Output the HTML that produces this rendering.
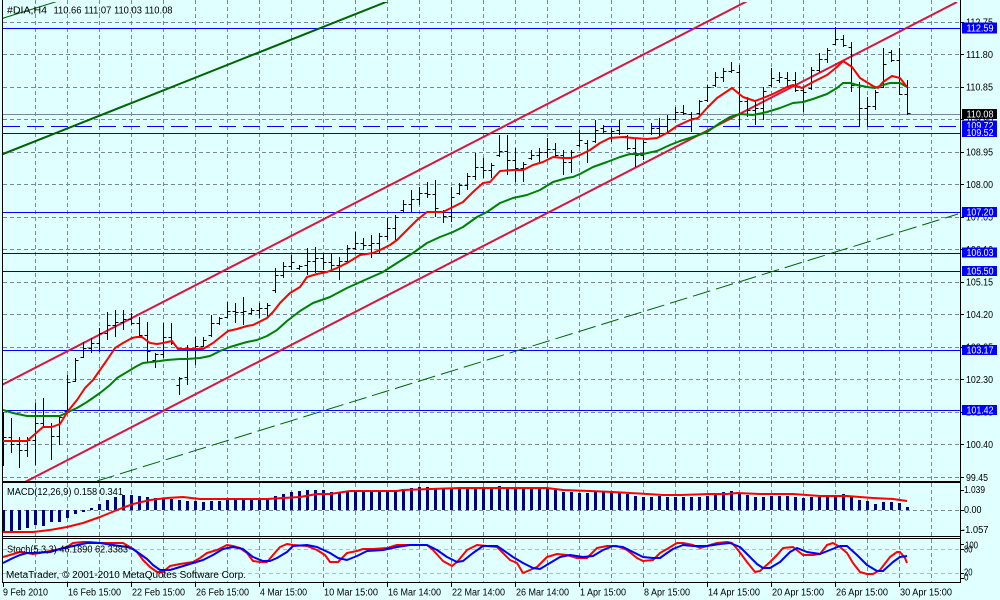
<!DOCTYPE html>
<html><head><meta charset="utf-8"><style>
html,body{margin:0;padding:0;background:#E0FFFF;}
svg{display:block;}
text{font-family:"Liberation Sans",sans-serif;font-size:10px;fill:#000;}
</style></head><body>
<svg width="1000" height="600" viewBox="0 0 1000 600" xmlns="http://www.w3.org/2000/svg">
<rect width="1000" height="600" fill="#E0FFFF"/>
<defs>
<clipPath id="cm"><rect x="3" y="2" width="957" height="479"/></clipPath>
<clipPath id="cd"><rect x="3" y="483" width="957" height="53"/></clipPath>
<clipPath id="cs"><rect x="3" y="539" width="957" height="43"/></clipPath>
</defs>
<!-- grid -->
<g stroke="#778899" stroke-width="1" stroke-dasharray="4,3" fill="none" shape-rendering="crispEdges">
<path d="M35.5 0V582M67.5 0V582M99.5 0V582M131.5 0V582M163.5 0V582M195.5 0V582M227.5 0V582M259.5 0V582M291.5 0V582M323.5 0V582M355.5 0V582M387.5 0V582M419.5 0V582M451.5 0V582M483.5 0V582M515.5 0V582M547.5 0V582M579.5 0V582M611.5 0V582M643.5 0V582M675.5 0V582M707.5 0V582M739.5 0V582M771.5 0V582M803.5 0V582M835.5 0V582M867.5 0V582M899.5 0V582M931.5 0V582"/>
<path d="M3 22.5H960M3 54.5H960M3 87.5H960M3 119.5H960M3 152.5H960M3 184.5H960M3 217.5H960M3 249.5H960M3 282.5H960M3 314.5H960M3 347.5H960M3 379.5H960M3 412.5H960M3 444.5H960M3 477.5H960"/>
<path d="M3 510.5H960"/>
</g>
<g stroke="#B8B8B8" stroke-width="1" stroke-dasharray="4,3" fill="none" shape-rendering="crispEdges">
<path d="M3 549.5H960M3 573.5H960"/>
</g>

<!-- main panel -->
<g clip-path="url(#cm)" fill="none">
<g shape-rendering="crispEdges" stroke-width="1">
<path stroke="#778899" d="M3 114.5H960"/>
<path stroke="#0000FF" d="M3 28.5H960M3 133.5H960M3 212.5H960M3 350.5H960M3 410.5H960"/>
<path stroke="#0000CD" d="M3 253.5H960M3 271.5H960"/>
<path stroke="#0000FF" stroke-dasharray="17,7" d="M3 126.5H960"/>
</g>
<path stroke="#006400" stroke-width="1" d="M2 18.5L60 0.5"/>
<path stroke="#006400" stroke-width="1" stroke-dasharray="18,6" d="M97 481L958 214"/>
<path stroke="#006400" stroke-width="2" d="M2 154.4L392 -0.4"/>
<path stroke="#DC143C" stroke-width="2" d="M2 384.9L760 -5.5"/>
<path stroke="#DC143C" stroke-width="2" d="M19 485.1L957 2"/>
<path stroke="#000" stroke-width="1" shape-rendering="crispEdges" d="M3.5 412V466M0.5 430.5H3.5M3.5 437.5H6.5M11.5 418V453M8.5 437.5H11.5M11.5 444.5H14.5M19.5 437V468M16.5 444.5H19.5M19.5 450.5H22.5M27.5 437V457M24.5 450.5H27.5M27.5 440.5H30.5M35.5 403V465M32.5 440.5H35.5M35.5 423.5H38.5M43.5 398V427M40.5 423.5H43.5M43.5 426.5H46.5M51.5 423V460M48.5 427.5H51.5M51.5 436.5H54.5M59.5 417V445M56.5 436.5H59.5M59.5 417.5H62.5M67.5 375V412M64.5 411.5H67.5M67.5 382.5H70.5M75.5 358V382M72.5 381.5H75.5M75.5 360.5H78.5M83.5 342V358M80.5 357.5H83.5M83.5 348.5H86.5M91.5 338V353M88.5 348.5H91.5M91.5 343.5H94.5M99.5 328V352M96.5 343.5H99.5M99.5 333.5H102.5M107.5 312V340M104.5 333.5H107.5M107.5 325.5H110.5M115.5 310V337M112.5 325.5H115.5M115.5 322.5H118.5M123.5 310V330M120.5 322.5H123.5M123.5 319.5H126.5M131.5 313V325M128.5 319.5H131.5M131.5 323.5H134.5M139.5 317V337M136.5 323.5H139.5M139.5 335.5H142.5M147.5 322V363M144.5 335.5H147.5M147.5 351.5H150.5M155.5 353V368M152.5 360.5H155.5M155.5 354.5H158.5M163.5 323V358M160.5 354.5H163.5M163.5 337.5H166.5M171.5 323V345M168.5 337.5H171.5M171.5 343.5H174.5M179.5 377V395M176.5 385.5H179.5M179.5 378.5H182.5M187.5 345V385M184.5 377.5H187.5M187.5 358.5H190.5M195.5 337V365M192.5 358.5H195.5M195.5 346.5H198.5M203.5 337V347M200.5 346.5H203.5M203.5 340.5H206.5M211.5 315V337M208.5 335.5H211.5M211.5 323.5H214.5M219.5 317V325M216.5 323.5H219.5M219.5 318.5H222.5M227.5 302V318M224.5 317.5H227.5M227.5 311.5H230.5M235.5 303V323M232.5 311.5H235.5M235.5 312.5H238.5M243.5 297V325M240.5 312.5H243.5M243.5 311.5H246.5M251.5 308V315M248.5 313.5H251.5M251.5 310.5H254.5M259.5 303V318M256.5 310.5H259.5M259.5 308.5H262.5M267.5 303V317M264.5 308.5H267.5M267.5 305.5H270.5M275.5 268V293M272.5 290.5H275.5M275.5 275.5H278.5M283.5 262V278M280.5 275.5H283.5M283.5 266.5H286.5M291.5 255V270M288.5 266.5H291.5M291.5 262.5H294.5M299.5 265V270M296.5 268.5H299.5M299.5 266.5H302.5M307.5 248V275M304.5 265.5H307.5M307.5 261.5H310.5M315.5 247V273M312.5 261.5H315.5M315.5 258.5H318.5M323.5 253V270M320.5 258.5H323.5M323.5 262.5H326.5M331.5 253V270M328.5 262.5H331.5M331.5 265.5H334.5M339.5 257V280M336.5 265.5H339.5M339.5 261.5H342.5M347.5 245V263M344.5 261.5H347.5M347.5 248.5H350.5M355.5 232V250M352.5 248.5H355.5M355.5 243.5H358.5M363.5 238V250M360.5 243.5H363.5M363.5 245.5H366.5M371.5 235V258M368.5 245.5H371.5M371.5 243.5H374.5M379.5 233V253M376.5 243.5H379.5M379.5 236.5H382.5M387.5 218V240M384.5 236.5H387.5M387.5 228.5H390.5M395.5 215V240M392.5 228.5H395.5M395.5 217.5H398.5M403.5 200V212M400.5 210.5H403.5M403.5 204.5H406.5M411.5 190V212M408.5 204.5H411.5M411.5 199.5H414.5M419.5 187V205M416.5 199.5H419.5M419.5 193.5H422.5M427.5 182V198M424.5 193.5H427.5M427.5 194.5H430.5M435.5 180V217M432.5 194.5H435.5M435.5 208.5H438.5M443.5 210V223M440.5 212.5H443.5M443.5 216.5H446.5M451.5 187V222M448.5 216.5H451.5M451.5 197.5H454.5M459.5 183V195M456.5 193.5H459.5M459.5 185.5H462.5M467.5 173V190M464.5 185.5H467.5M467.5 176.5H470.5M475.5 153V180M472.5 176.5H475.5M475.5 167.5H478.5M483.5 158V178M480.5 167.5H483.5M483.5 170.5H486.5M491.5 163V178M488.5 170.5H491.5M491.5 165.5H494.5M499.5 135V157M496.5 155.5H499.5M499.5 151.5H502.5M507.5 135V175M504.5 151.5H507.5M507.5 160.5H510.5M515.5 148V182M512.5 160.5H515.5M515.5 168.5H518.5M523.5 162V182M520.5 168.5H523.5M523.5 164.5H526.5M531.5 150V160M528.5 158.5H531.5M531.5 155.5H534.5M539.5 148V162M536.5 155.5H539.5M539.5 152.5H542.5M547.5 138V158M544.5 152.5H547.5M547.5 149.5H550.5M555.5 143V157M552.5 149.5H555.5M555.5 155.5H558.5M563.5 150V175M560.5 155.5H563.5M563.5 162.5H566.5M571.5 150V173M568.5 162.5H571.5M571.5 152.5H574.5M579.5 130V147M576.5 145.5H579.5M579.5 140.5H582.5M587.5 140V163M584.5 143.5H587.5M587.5 150.5H590.5M595.5 120V143M592.5 141.5H595.5M595.5 130.5H598.5M603.5 125V133M600.5 128.5H603.5M603.5 131.5H606.5M611.5 128V142M608.5 133.5H611.5M611.5 131.5H614.5M619.5 120V135M616.5 130.5H619.5M619.5 133.5H622.5M627.5 135V150M624.5 136.5H627.5M627.5 148.5H630.5M635.5 138V167M632.5 148.5H635.5M635.5 155.5H638.5M643.5 140V160M640.5 155.5H643.5M643.5 142.5H646.5M651.5 123V135M648.5 133.5H651.5M651.5 128.5H654.5M659.5 118V137M656.5 128.5H659.5M659.5 126.5H662.5M667.5 115V132M664.5 126.5H667.5M667.5 119.5H670.5M675.5 107V120M672.5 119.5H675.5M675.5 112.5H678.5M683.5 105V115M680.5 112.5H683.5M683.5 113.5H686.5M691.5 112V132M688.5 114.5H691.5M691.5 118.5H694.5M699.5 100V115M696.5 113.5H699.5M699.5 101.5H702.5M707.5 85V102M704.5 100.5H707.5M707.5 87.5H710.5M715.5 72V87M712.5 85.5H715.5M715.5 77.5H718.5M723.5 68V82M720.5 77.5H723.5M723.5 71.5H726.5M731.5 62V73M728.5 71.5H731.5M731.5 70.5H734.5M739.5 65V127M736.5 72.5H739.5M739.5 101.5H742.5M747.5 97V117M744.5 101.5H747.5M747.5 110.5H750.5M755.5 100V125M752.5 110.5H755.5M755.5 108.5H758.5M763.5 87V120M760.5 108.5H763.5M763.5 91.5H766.5M771.5 68V87M768.5 85.5H771.5M771.5 78.5H774.5M779.5 72V83M776.5 80.5H779.5M779.5 77.5H782.5M787.5 72V87M784.5 78.5H787.5M787.5 80.5H790.5M795.5 72V92M792.5 80.5H795.5M795.5 90.5H798.5M803.5 87V112M800.5 90.5H803.5M803.5 92.5H806.5M811.5 67V90M808.5 88.5H811.5M811.5 70.5H814.5M819.5 53V72M816.5 70.5H819.5M819.5 59.5H822.5M827.5 48V63M824.5 59.5H827.5M827.5 50.5H830.5M835.5 27V45M832.5 44.5H835.5M835.5 39.5H838.5M843.5 35V47M840.5 39.5H843.5M843.5 45.5H846.5M851.5 42V92M848.5 47.5H851.5M851.5 85.5H854.5M859.5 82V126M856.5 85.5H859.5M859.5 108.5H862.5M867.5 97V126M864.5 108.5H867.5M867.5 106.5H870.5M875.5 90V110M872.5 106.5H875.5M875.5 92.5H878.5M883.5 48V88M880.5 87.5H883.5M883.5 64.5H886.5M891.5 50V62M888.5 52.5H891.5M891.5 60.5H894.5M899.5 48V95M896.5 60.5H899.5M899.5 94.5H902.5M907.5 80V115M904.5 94.5H907.5M907.5 113.5H910.5"/>
<polyline stroke="#008000" stroke-width="2" stroke-linejoin="round" points="3,410 13,413 27,416 60,416 68,412 77,408 87,402 100,393 110,385 117,378 127,372 137,366 143,363 160,361 167,360 180,359 187,359 200,358 210,356 220,351 230,347 240,344 247,342 257,340 267,336 277,330 287,321 300,311 313,303 330,297 347,288 367,279 383,272 397,263 413,253 427,243 440,237 453,232 463,227 477,217 487,212 500,203 513,198 527,195 540,190 553,182 567,178 573,177 580,174 593,167 607,162 620,157 630,154 643,154 657,151 670,145 680,141 693,137 707,132 720,123 730,117 740,114 753,115 767,112 780,108 793,103 803,102 813,99 827,94 837,88 843,83 850,83 857,85 867,87 875,88 880,86 890,83 900,83 907,87"/>
<polyline stroke="#FF0000" stroke-width="2" stroke-linejoin="round" points="3,441 27,441 35,434 43,427 52,427 60,424 68,411 77,400 85,388 93,380 100,370 107,360 115,348 123,343 132,338 137,337 142,337 150,343 157,344 163,343 172,341 178,349 203,349 213,343 228,331 237,329 247,326 253,325 267,318 273,312 280,303 290,293 300,287 307,277 317,274 327,272 337,268 347,263 360,255 373,253 380,250 390,245 397,240 407,230 417,220 427,212 443,212 453,207 463,202 473,192 483,183 490,182 500,171 513,170 523,170 533,165 543,162 553,157 563,158 572,158 580,155 590,150 600,143 610,138 623,137 633,138 647,139 657,138 667,133 677,126 690,120 698,118 707,108 717,98 732,88 743,97 755,101 763,98 773,94 787,87 793,85 802,88 813,82 827,75 837,67 843,61 852,67 860,78 873,86 878,88 883,82 892,76 900,78 907,87"/>
</g>

<!-- MACD panel -->
<g clip-path="url(#cd)" fill="none">
<path stroke="#000080" stroke-width="3" d="M3.5 510V532M11.5 510V532M19.5 510V530M27.5 510V528M35.5 510V525M43.5 510V526M51.5 510V522M59.5 510V522M67.5 510V518M75.5 510V514M83.5 510V512M91.5 508V510M99.5 504V510M107.5 500V510M115.5 497V510M123.5 495V510M131.5 495V510M139.5 496V510M147.5 497V510M155.5 498V510M163.5 499V510M171.5 499V510M179.5 500V510M187.5 501V510M195.5 501V510M203.5 502V510M211.5 501V510M219.5 501V510M227.5 500V510M235.5 500V510M243.5 499V510M251.5 499V510M259.5 498V510M267.5 498V510M275.5 496V510M283.5 494V510M291.5 492V510M299.5 491V510M307.5 490V510M315.5 490V510M323.5 490V510M331.5 492V510M339.5 492V510M347.5 491V510M355.5 491V510M363.5 491V510M371.5 491V510M379.5 491V510M387.5 491V510M395.5 490V510M403.5 489V510M411.5 488V510M419.5 487V510M427.5 487V510M435.5 489V510M443.5 489V510M451.5 489V510M459.5 488V510M467.5 488V510M475.5 488V510M483.5 488V510M491.5 488V510M499.5 486V510M507.5 488V510M515.5 488V510M523.5 488V510M531.5 488V510M539.5 488V510M547.5 489V510M555.5 490V510M563.5 492V510M571.5 492V510M579.5 493V510M587.5 493V510M595.5 492V510M603.5 492V510M611.5 492V510M619.5 493V510M627.5 494V510M635.5 496V510M643.5 497V510M651.5 497V510M659.5 496V510M667.5 497V510M675.5 497V510M683.5 497V510M691.5 497V510M699.5 497V510M707.5 496V510M715.5 493V510M723.5 492V510M731.5 491V510M739.5 493V510M747.5 495V510M755.5 497V510M763.5 497V510M771.5 496V510M779.5 496V510M787.5 496V510M795.5 497V510M803.5 498V510M811.5 497V510M819.5 497V510M827.5 497V510M835.5 495V510M843.5 494V510M851.5 496V510M859.5 500V510M867.5 501V510M875.5 504V510M883.5 502V510M891.5 502V510M899.5 503V510M907.5 507V510"/>
<polyline stroke="#FF0000" stroke-width="2" stroke-linejoin="round" points="3,532 33,532 50,530 67,527 83,523 100,517 117,510 133,504 150,500 167,498 183,497 200,499 267,499 283,498 300,497 317,494 330,494 350,491 397,491 403,490 430,489 460,488 547,488 563,490 590,491 613,492 630,493 647,494 663,495 680,495 710,494 727,494 737,493 760,494 793,494 820,496 847,496 860,497 873,498 893,499 900,500 907,501"/>
</g>

<!-- Stoch panel -->
<g clip-path="url(#cs)" fill="none" stroke-width="2" stroke-linejoin="round">
<polyline stroke="#FF0000" points="3,557 10,555 20,552 27,553 33,554 40,553 50,551 60,549 67,547 73,543 83,542 90,542 100,543 113,543 123,543 130,547 137,552 143,560 150,567 157,572 163,572 170,566 180,564 193,562 200,558 207,553 217,550 227,545 233,546 240,548 247,553 253,561 260,562 267,562 273,555 280,547 287,544 293,545 307,546 317,550 325,555 330,562 338,562 347,553 357,551 363,549 373,549 387,548 397,545 410,545 427,545 433,550 443,561 452,566 457,562 467,550 477,545 487,546 497,547 503,553 510,560 517,563 523,573 530,570 537,567 547,557 557,554 567,555 577,558 587,558 597,548 607,546 617,546 627,550 637,558 643,561 653,560 660,553 667,549 677,543 683,543 693,545 700,548 707,546 717,543 727,542 732,543 738,550 747,562 755,572 760,571 770,562 777,555 783,548 793,547 803,555 813,555 820,554 827,545 833,543 840,547 847,553 853,563 860,572 867,574 873,574 880,570 890,557 897,552 900,552 905,558 907,563"/>
<polyline stroke="#0000FF" points="3,563 13,558 20,555 27,553 33,553 50,552 60,549 73,546 87,543 100,543 113,545 127,547 133,549 140,554 147,559 153,565 160,570 170,570 180,567 193,563 203,560 213,555 223,549 233,547 243,549 253,557 263,561 270,561 277,558 287,552 293,546 307,545 317,547 330,553 338,558 347,560 357,556 367,551 383,550 397,547 410,545 427,545 437,550 447,557 457,562 463,561 473,553 483,546 497,546 503,550 513,557 523,563 533,568 540,569 550,563 560,557 570,555 583,557 593,556 603,550 613,546 623,547 633,552 643,557 653,558 660,558 667,553 673,549 683,545 693,546 707,546 720,544 730,543 740,547 750,557 757,564 763,568 770,568 780,562 790,552 797,548 807,552 820,554 830,550 840,546 847,546 857,555 867,565 877,571 883,571 893,562 900,557 907,556"/>
</g>

<!-- borders -->
<g stroke="#000" stroke-width="1" fill="none" shape-rendering="crispEdges">
<path d="M2.5 0V583M960.5 0V583"/>
<path d="M2 481.5H961M2 482.5H961M2 536.5H961M2 538.5H961M2 582.5H961"/>
<path d="M960 22.5H964M960 54.5H964M960 87.5H964M960 119.5H964M960 152.5H964M960 184.5H964M960 217.5H964M960 249.5H964M960 282.5H964M960 314.5H964M960 347.5H964M960 379.5H964M960 412.5H964M960 444.5H964M960 477.5H964M960 490.5H964M960 510.5H964M960 530.5H964M960 544.5H964M960 549.5H964M960 573.5H964M960 578.5H964"/>
<path d="M3.5 582V587M67.5 582V587M131.5 582V587M195.5 582V587M259.5 582V587M323.5 582V587M387.5 582V587M451.5 582V587M515.5 582V587M579.5 582V587M643.5 582V587M707.5 582V587M771.5 582V587M835.5 582V587M899.5 582V587"/>
</g>

<!-- right axis labels -->
<g lengthAdjust="spacingAndGlyphs">
<text x="966" y="25.6" textLength="27" lengthAdjust="spacingAndGlyphs">112.75</text>
<text x="966" y="58.1" textLength="27" lengthAdjust="spacingAndGlyphs">111.80</text>
<text x="966" y="90.6" textLength="27" lengthAdjust="spacingAndGlyphs">110.85</text>
<text x="966" y="123.1" textLength="27" lengthAdjust="spacingAndGlyphs">109.90</text>
<text x="966" y="155.6" textLength="27" lengthAdjust="spacingAndGlyphs">108.95</text>
<text x="966" y="188.1" textLength="27" lengthAdjust="spacingAndGlyphs">108.00</text>
<text x="966" y="220.6" textLength="27" lengthAdjust="spacingAndGlyphs">107.05</text>
<text x="966" y="253.1" textLength="27" lengthAdjust="spacingAndGlyphs">106.10</text>
<text x="966" y="285.6" textLength="27" lengthAdjust="spacingAndGlyphs">105.15</text>
<text x="966" y="318.1" textLength="27" lengthAdjust="spacingAndGlyphs">104.20</text>
<text x="966" y="350.6" textLength="27" lengthAdjust="spacingAndGlyphs">103.25</text>
<text x="966" y="383.1" textLength="27" lengthAdjust="spacingAndGlyphs">102.30</text>
<text x="966" y="415.6" textLength="27" lengthAdjust="spacingAndGlyphs">101.35</text>
<text x="966" y="448.1" textLength="27" lengthAdjust="spacingAndGlyphs">100.40</text>
<text x="966" y="480.8" textLength="22" lengthAdjust="spacingAndGlyphs">99.45</text>
</g>
<!-- price boxes -->
<rect x="962" y="22.5" width="35" height="11" fill="#0000FF"/>
<text x="966.5" y="31.5" textLength="27" lengthAdjust="spacingAndGlyphs" style="fill:#fff">112.59</text>
<rect x="962" y="109" width="35" height="10" fill="#000"/>
<text x="966.5" y="117.6" textLength="27" lengthAdjust="spacingAndGlyphs" style="fill:#fff">110.08</text>
<rect x="962" y="120.5" width="35" height="10" fill="#0000FF"/>
<text x="966.5" y="129.2" textLength="27" lengthAdjust="spacingAndGlyphs" style="fill:#fff">109.72</text>
<rect x="962" y="128" width="35" height="9" fill="#0000FF"/>
<text x="966.5" y="136.2" textLength="27" lengthAdjust="spacingAndGlyphs" style="fill:#fff">109.52</text>
<rect x="962" y="207" width="35" height="10" fill="#0000FF"/>
<text x="966.5" y="215.7" textLength="27" lengthAdjust="spacingAndGlyphs" style="fill:#fff">107.20</text>
<rect x="962" y="247.5" width="35" height="10" fill="#0000FF"/>
<text x="966.5" y="256.2" textLength="27" lengthAdjust="spacingAndGlyphs" style="fill:#fff">106.03</text>
<rect x="962" y="266" width="35" height="10" fill="#0000FF"/>
<text x="966.5" y="274.7" textLength="27" lengthAdjust="spacingAndGlyphs" style="fill:#fff">105.50</text>
<rect x="962" y="345" width="35" height="10" fill="#0000FF"/>
<text x="966.5" y="353.7" textLength="27" lengthAdjust="spacingAndGlyphs" style="fill:#fff">103.17</text>
<rect x="962" y="405" width="35" height="10" fill="#0000FF"/>
<text x="966.5" y="413.7" textLength="27" lengthAdjust="spacingAndGlyphs" style="fill:#fff">101.42</text>

<!-- indicator axis labels -->
<text x="964" y="492.8" textLength="21" lengthAdjust="spacingAndGlyphs">1.039</text>
<text x="964" y="512.8" textLength="17.5" lengthAdjust="spacingAndGlyphs">0.00</text>
<text x="962" y="532.8" textLength="26.5" lengthAdjust="spacingAndGlyphs">-1.057</text>
<text x="965" y="548.5" textLength="13" lengthAdjust="spacingAndGlyphs">100</text>
<text x="964" y="552.5" textLength="8.5" lengthAdjust="spacingAndGlyphs">80</text>
<text x="964" y="575.3" textLength="8.5" lengthAdjust="spacingAndGlyphs">20</text>
<text x="964" y="580.3" textLength="4.5" lengthAdjust="spacingAndGlyphs">0</text>

<!-- panel labels -->
<text x="7" y="13.6" textLength="40" lengthAdjust="spacingAndGlyphs">#DIA,H4</text>
<text x="53.5" y="13.6" textLength="119" lengthAdjust="spacingAndGlyphs">110.66 111.07 110.03 110.08</text>
<text x="7" y="495" textLength="116" lengthAdjust="spacingAndGlyphs">MACD(12,26,9) 0.158 0.341</text>
<text x="7" y="552.3" textLength="121" lengthAdjust="spacingAndGlyphs">Stoch(5,3,3) 46.1890 62.3383</text>
<text x="6" y="577.8" textLength="240" lengthAdjust="spacingAndGlyphs">MetaTrader, © 2001-2010 MetaQuotes Software Corp.</text>

<!-- time axis -->
<text x="3" y="595.3" textLength="45" lengthAdjust="spacingAndGlyphs">9 Feb 2010</text>
<text x="68" y="595.3" textLength="53" lengthAdjust="spacingAndGlyphs">16 Feb 15:00</text>
<text x="132" y="595.3" textLength="53" lengthAdjust="spacingAndGlyphs">22 Feb 15:00</text>
<text x="196" y="595.3" textLength="53" lengthAdjust="spacingAndGlyphs">26 Feb 15:00</text>
<text x="260" y="595.3" textLength="47" lengthAdjust="spacingAndGlyphs">4 Mar 15:00</text>
<text x="324" y="595.3" textLength="54" lengthAdjust="spacingAndGlyphs">10 Mar 15:00</text>
<text x="388" y="595.3" textLength="53" lengthAdjust="spacingAndGlyphs">16 Mar 14:00</text>
<text x="452" y="595.3" textLength="53" lengthAdjust="spacingAndGlyphs">22 Mar 14:00</text>
<text x="516" y="595.3" textLength="53" lengthAdjust="spacingAndGlyphs">26 Mar 14:00</text>
<text x="580" y="595.3" textLength="46" lengthAdjust="spacingAndGlyphs">1 Apr 15:00</text>
<text x="644" y="595.3" textLength="46" lengthAdjust="spacingAndGlyphs">8 Apr 15:00</text>
<text x="708" y="595.3" textLength="52" lengthAdjust="spacingAndGlyphs">14 Apr 15:00</text>
<text x="772" y="595.3" textLength="52" lengthAdjust="spacingAndGlyphs">20 Apr 15:00</text>
<text x="836" y="595.3" textLength="52" lengthAdjust="spacingAndGlyphs">26 Apr 15:00</text>
<text x="900" y="595.3" textLength="52" lengthAdjust="spacingAndGlyphs">30 Apr 15:00</text>
</svg>
</body></html>
